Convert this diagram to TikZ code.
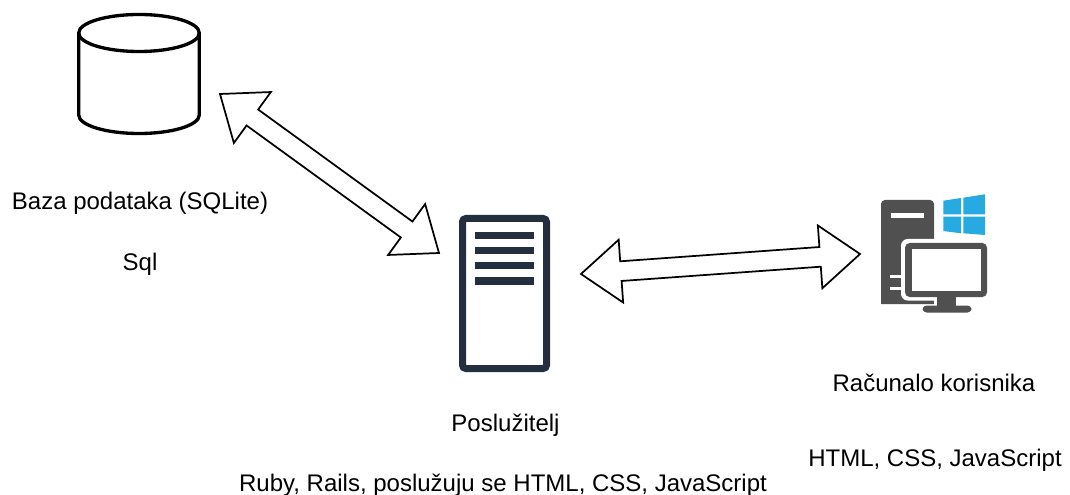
\documentclass[tikz,border=0pt]{standalone}
\usepackage{fontspec}
\setmainfont{Liberation Sans}
\usetikzlibrary{calc}
\definecolor{srvblue}{HTML}{232F3E}
\definecolor{pcgrey}{HTML}{505050}
\definecolor{winblue}{HTML}{27AAE1}
\newcommand{\dblarrow}[2]{
    \coordinate (na) at ($(#1)!30pt!(#2)$);
    \coordinate (nb) at ($(#2)!30pt!(#1)$);
    \draw[widearrow] (#1) -- ($(na)!23.6pt!90:(#2)$) -- ($(na)!7.4pt!90:(#2)$)
        -- ($(nb)!7.4pt!-90:(#1)$) -- ($(nb)!23.6pt!-90:(#1)$) -- (#2)
        -- ($(nb)!23.6pt!90:(#1)$) -- ($(nb)!7.4pt!90:(#1)$)
        -- ($(na)!7.4pt!-90:(#2)$) -- ($(na)!23.6pt!-90:(#2)$) -- cycle;
}

\begin{document}
\begin{tikzpicture}[
    x=0.75pt, y=-0.75pt,
    label/.style={font=\fontsize{18pt}{20pt}\selectfont, inner sep=0pt, anchor=base},
    widearrow/.style={draw=black, line width=1.3pt, fill=white, line join=miter},
    dbline/.style={draw=black, line width=2.5pt},
    server/.style={rectangle, draw=srvblue, line width=5.25pt, rounded corners=2.5pt,
        minimum width=63pt, minimum height=112.5pt, inner sep=0pt},
    srvbar/.style={rectangle, fill=srvblue, minimum width=44.25pt, minimum height=5.5pt, inner sep=0pt},
    pane/.style={fill=winblue, draw=none}
]
    \useasboundingbox (0,0) rectangle (1070,495);
    % database
    \draw[dbline] (139,33) ellipse [x radius=60.3, y radius=18.5];
    \draw[dbline] (78.7,33) -- (78.7,115) .. controls (78.7,125.2) and (105.7,133.5) .. (139,133.5)
        .. controls (172.3,133.5) and (199.3,125.2) .. (199.3,115) -- (199.3,33);
    \node[label] (dbname) at (140,210) {Baza podataka (SQLite)};
    \node[label] (dblang) at (140,270) {Sql};
    % server
    \node[server] (srv) at (504.5,293.5) {};
    \node[srvbar] (bara) at (504.5,235.5) {};
    \node[srvbar] (barb) at (504.5,250.5) {};
    \node[srvbar] (barc) at (504.5,265.5) {};
    \node[srvbar] (bard) at (504.5,281) {};
    \node[label] (srvname) at (505.5,431.5) {Poslužitelj};
    \node[label] (srvlang) at (503,491.5) {Ruby, Rails, poslužuju se HTML, CSS, JavaScript};
    % user computer
    \fill[pcgrey] (881,304) [rounded corners=3pt] -- (881,200) -- (934,200) [sharp corners] -- (934,304) -- cycle;
    \fill[white] (891,213) rectangle (924,218);
    \fill[white] (890,275) rectangle (903,278);
    \fill[white] (890,287) rectangle (903,290);
    \fill[white, rounded corners=5pt] (901,239) rectangle (990,300.5);
    \fill[white] (934,300) rectangle (990,314);
    \fill[pcgrey, rounded corners=3.5pt] (905,243) rectangle (987,297);
    \fill[white] (912,249) rectangle (981,291);
    \fill[pcgrey] (937,296) rectangle (956,307);
    \fill[pcgrey, rounded corners=3pt] (922.5,305.5) rectangle (971.5,312.5);
    \fill[pane] (943.3,200.7) -- (961,198) -- (961,214.3) -- (943.3,214.3) -- cycle;
    \fill[pane] (963.3,197.7) -- (985,194.3) -- (985,214.3) -- (963.3,214.3) -- cycle;
    \fill[pane] (943.3,216.7) -- (961,216.7) -- (961,233.3) -- (943.3,231) -- cycle;
    \fill[pane] (963.3,216.7) -- (985,216.7) -- (985,235) -- (963.3,233.3) -- cycle;
    \node[label] (pcname) at (934,391) {Računalo korisnika};
    \node[label] (pclang) at (935,466.5) {HTML, CSS, JavaScript};
    % arrows
    \coordinate (dbtip) at (220,94);
    \coordinate (srvtipa) at (439,253);
    \coordinate (srvtipb) at (581,274);
    \coordinate (pctip) at (860,254);
    \dblarrow{dbtip}{srvtipa}
    \dblarrow{srvtipb}{pctip}
\end{tikzpicture}
\end{document}
